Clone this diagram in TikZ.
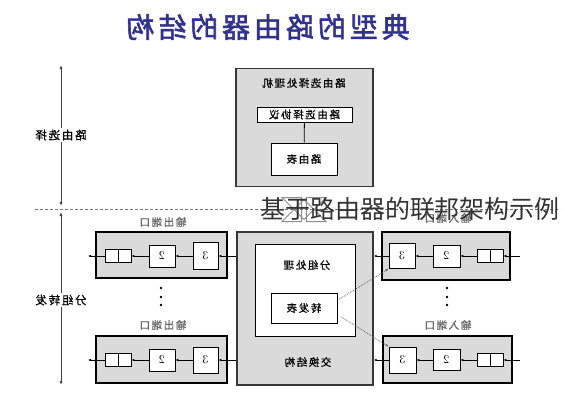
\documentclass[tikz,border=0pt]{standalone}
\usepackage{fontspec}
\usepackage{graphicx}
\usetikzlibrary{arrows.meta,shapes.arrows}
\newfontfamily\cjk[FakeBold=0.8,LetterSpace=15]{Noto Sans CJK SC}
\newfontfamily\cjktitle[FakeBold=2,LetterSpace=14]{Noto Sans CJK SC}
\newfontfamily\cjkover{Noto Sans CJK SC}
\newcommand{\mirr}[1]{\reflectbox{#1}}
\definecolor{boxgray}{RGB}{218,218,218}
\definecolor{titleblue}{RGB}{50,50,140}
\definecolor{framegray}{RGB}{55,55,55}

\begin{document}
\begin{tikzpicture}[x=1pt,y=-1pt,
  sized/.style 2 args={minimum width=#1,minimum height=#2},
  outer/.style={draw=framegray,line width=1.4pt,fill=boxgray,inner sep=0pt},
  port/.style={draw=black,line width=1.6pt,fill=boxgray,inner sep=0pt},
  inner/.style={draw=black,line width=0.8pt,fill=white,inner sep=0pt},
  lbl/.style={font=\cjk\fontsize{10.5}{12}\selectfont,inner sep=1pt},
  portlbl/.style={font=\cjk\fontsize{10.5}{12}\selectfont,text=black!60,inner sep=1pt},
  num/.style={font=\fontsize{12}{14}\selectfont},
  flow/.style={line width=0.8pt,-{Latex[length=3pt,width=2.5pt]}},
  fwd/.style={densely dotted,line width=0.8pt,draw=black!60,-{Latex[length=3pt,width=2.5pt]}},
  axis/.style={line width=0.9pt,draw=black!75,{Latex[length=4pt,width=3pt]}-{Latex[length=4pt,width=3pt]}}]
\useasboundingbox (0,0) rectangle (566,400);

\node[font=\cjktitle\fontsize{28}{30}\selectfont,text=titleblue] (title) at (268,27) {\mirr{典型的路由器的结构}};

% routing processor
\node[outer,sized={137}{118}] (rproc) at (304.5,127.5) {};
\node[lbl] (rproclbl) at (304,83) {\mirr{路由选择处理机}};
\node[inner,sized={95}{15}] (rproto) at (304.5,114.5) {};
\node[lbl] at (rproto) {\mirr{路由选择协议}};
\node[inner,sized={66}{32}] (rtable) at (304,159) {};
\node[lbl] at (rtable) {\mirr{路由表}};
\draw[line width=0.8pt] (rproto) -- (rtable);

% switch fabric
\node[outer,sized={136}{153}] (sw) at (305,308.5) {};
\node[inner,sized={100}{92}] (proc) at (305,290) {};
\node[lbl] (proclbl) at (307,265) {\mirr{分组处理}};
\node[inner,sized={66}{30}] (fwdtab) at (304,308) {};
\node[lbl] at (fwdtab) {\mirr{转发表}};
\node[lbl] (swlbl) at (308,362) {\mirr{交换结构}};

\node[double arrow,rotate=90,sized={44}{20},double arrow head extend=4pt,
  draw=black!45,line width=1pt,fill=white,inner sep=0pt] (updown) at (304,209.5) {};

% axis
\draw[densely dashed,draw=black!55,line width=0.7pt] (35,209) -- (560,209);
\coordinate (a1) at (61,65);
\coordinate (a2) at (61,206);
\coordinate (a3) at (61,212);
\coordinate (a4) at (61,385);
\draw[axis] (a1) -- (a2);
\draw[axis] (a3) -- (a4);
\node[lbl,font=\cjk\fontsize{11.5}{13}\selectfont,fill=white,inner sep=2pt] (routesel) at (61,135) {\mirr{路由选择}};
\node[lbl,font=\cjk\fontsize{11.5}{13}\selectfont,fill=white,inner sep=2pt] (pktfwd) at (61,300) {\mirr{分组转发}};

% output ports
\node[port,sized={131}{46}] (o1) at (161.5,255) {};
\node[portlbl] at (163,222) {\mirr{输出端口}};
\node[inner,sized={26}{13}] (o1q) at (118,256) {};
\draw[line width=0.8pt] (o1q.north) -- (o1q.south);
\node[inner,sized={26}{22},num] (o1b2) at (162,256) {\mirr{2}};
\node[inner,sized={25}{27},num] (o1b3) at (205.5,256) {\mirr{3}};
\coordinate (o1end) at (88,256);
\draw[flow] (o1b3 -| sw.west) -- (o1b3);
\draw[flow] (o1b3) -- (o1b2);
\draw[flow] (o1b2) -- (o1q);
\draw[flow] (o1q) -- (o1end);

\node[port,sized={131}{47}] (o2) at (161.5,359.5) {};
\node[portlbl] at (163,325) {\mirr{输出端口}};
\node[inner,sized={26}{13}] (o2q) at (118,360) {};
\draw[line width=0.8pt] (o2q.north) -- (o2q.south);
\node[inner,sized={26}{22},num] (o2b2) at (162,360) {\mirr{2}};
\node[inner,sized={25}{26},num] (o2b3) at (205.5,360) {\mirr{3}};
\coordinate (o2end) at (88,360);
\draw[flow] (o2b3 -| sw.west) -- (o2b3);
\draw[flow] (o2b3) -- (o2b2);
\draw[flow] (o2b2) -- (o2q);
\draw[flow] (o2q) -- (o2end);

% input ports
\node[port,sized={128}{48}] (i1) at (446,256) {};
\node[portlbl] at (448,218) {\mirr{输入端口}};
\node[inner,sized={26}{25},num] (i1b3) at (402,256) {\mirr{3}};
\node[inner,sized={27}{22},num] (i1b2) at (446.5,256) {\mirr{2}};
\node[inner,sized={26}{13}] (i1q) at (490,256) {};
\draw[line width=0.8pt] (i1q.north) -- (i1q.south);
\coordinate (i1end) at (520,256);
\draw[flow] (i1end) -- (i1q);
\draw[flow] (i1q) -- (i1b2);
\draw[flow] (i1b2) -- (i1b3);
\draw[flow] (i1b3) -- (i1b3 -| sw.east);

\node[port,sized={129}{47}] (i2) at (447.5,359.5) {};
\node[portlbl] at (448,325) {\mirr{输入端口}};
\node[inner,sized={27}{26},num] (i2b3) at (402.5,360) {\mirr{3}};
\node[inner,sized={27}{21},num] (i2b2) at (446.5,360) {\mirr{2}};
\node[inner,sized={26}{13}] (i2q) at (490,360) {};
\draw[line width=0.8pt] (i2q.north) -- (i2q.south);
\coordinate (i2end) at (520,360);
\draw[flow] (i2end) -- (i2q);
\draw[flow] (i2q) -- (i2b2);
\draw[flow] (i2b2) -- (i2b3);
\draw[flow] (i2b3) -- (i2b3 -| sw.east);

\foreach \y in {288,297,305} {
  \fill (161,\y) circle (1.4);
  \fill (447,\y) circle (1.4);
}

\draw[fwd] (fwdtab.east) ++(2,-9) -- (i1b3.south west);
\draw[fwd] (fwdtab.east) ++(4,9) -- (i2b3.north west);

\node[font=\cjkover\fontsize{25}{27}\selectfont,text=black!80,inner sep=0pt] (overlay) at (410,209) {基于路由器的联邦架构示例};
\end{tikzpicture}
\end{document}
